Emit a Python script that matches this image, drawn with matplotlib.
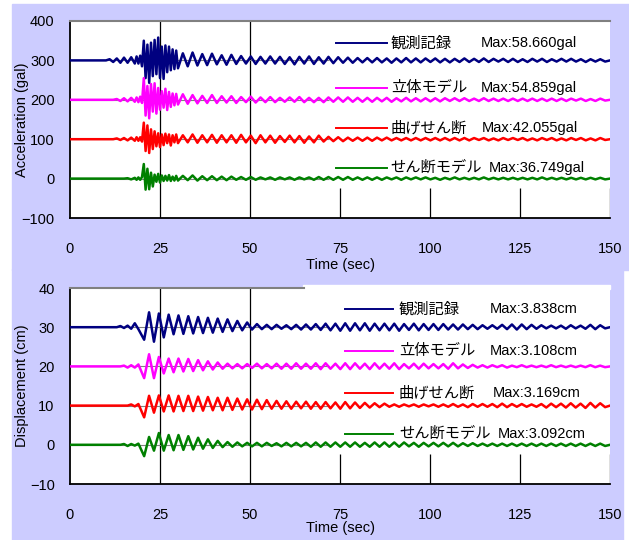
import numpy as np
import matplotlib
matplotlib.use("Agg")
import matplotlib.pyplot as plt
from matplotlib.patches import Rectangle

plt.rcParams['font.family'] = ['Liberation Sans', 'Noto Sans CJK JP']
plt.rcParams['axes.unicode_minus'] = True

# --- data ---
names = ["観測記録", "立体モデル", "曲げせん断", "せん断モデル"]
colors = ["#000080", "#FF00FF", "#FF0000", "#008000"]
acc_max = ["Max:58.660gal", "Max:54.859gal", "Max:42.055gal", "Max:36.749gal"]
dis_max = ["Max:3.838cm", "Max:3.108cm", "Max:3.169cm", "Max:3.092cm"]
acc_offsets = [300, 200, 100, 0]
dis_offsets = [30, 20, 10, 0]

# sample times (sec): start, pre-event 1 s, burst 0.5 s, coda ~1.35 s
t_acc = np.concatenate([[0], np.arange(10, 18), np.arange(18, 30, 0.5),
                        np.linspace(30, 150, 90)])
t_dis = np.concatenate([[0], np.arange(10, 20), np.linspace(20.6, 150, 96)])

# acceleration (gal), relative to each trace's offset
acc_obs = [0,
    0, 3, -4, 5, -6, 7, -6, 8,
    -8, 10, -8, 12, -15, 50, -45, 40, -57, 45, -40, 52,
    -35, 58, -45, 35, -47, 38, -30, 35, -25, 28, -22, 25,
    -20, 18, -15, 20, -13, 16, -12, 17, -10, 13,
    -11, 14, -9, 11, -8, 10, -9, 9, -8, 10,
    -8, 9, -9, 8, -10, 9, -8, 10, -9, 8,
    -8, 9, -7, 8, -6, 7, -6, 6, -5, 6,
    -5, 6, -5, 5, -6, 5, -5, 6, -5, 5,
    -5, 5, -4, 5, -5, 4, -5, 4, -4, 5,
    -4, 4, -4, 5, -4, 4, -3, 4, -4, 4,
    -4, 3, -4, 4, -3, 4, -4, 3, -3, 4,
    -3, 4, -3, 3, -4, 3, -3, 3, -3, 0]
acc_3d = [0,
    0, 0, 0, 2, -3, 4, -4, 5,
    -5, 6, -6, 8, -8, 55, -40, 35, -47, 40, -30, 42,
    -35, 30, -25, 22, -20, 28, -26, 20, -18, 16, -14, 15,
    -12, 14, -10, 12, -9, 10, -8, 12, -8, 9,
    -7, 9, -8, 7, -6, 8, -7, 6, -6, 7,
    -6, 5, -5, 6, -5, 7, -6, 5, -6, 5,
    -6, 6, -5, 6, -5, 6, -5, 5, -5, 5,
    -5, 5, -4, 5, -5, 4, -4, 5, -4, 4,
    -4, 4, -4, 4, -4, 4, -3, 4, -3, 4,
    -3, 3, -3, 4, -3, 3, -3, 3, -3, 3,
    -3, 3, -3, 3, -3, 3, -3, 3, -3, 3,
    -3, 3, -2, 3, -3, 2, -3, 3, -2, 0]
acc_bend = [0,
    0, 0, 0, 2, -2, 3, -3, 4,
    -4, 5, -4, 5, -6, 42, -30, 35, -35, 25, -25, 20,
    -18, 15, -20, 12, -15, 14, -10, 12, -16, 10, -8, 12,
    -10, 10, -8, 12, -9, 10, -8, 11, -9, 10,
    -8, 10, -9, 11, -8, 9, -10, 10, -8, 9,
    -9, 8, -7, 9, -8, 8, -9, 7, -8, 9,
    -6, 6, -5, 5, -5, 4, -4, 4, -4, 4,
    -4, 4, -3, 4, -3, 3, -3, 3, -3, 3,
    -3, 3, -3, 3, -3, 3, -3, 3, -3, 3,
    -3, 3, -2, 3, -3, 2, -3, 3, -2, 3,
    -2, 3, -3, 2, -3, 3, -2, 3, -3, 2,
    -3, 3, -2, 3, -3, 2, -3, 3, -2, 0]
acc_shear = [0,
    0, 0, 0, 0, 0, 0, 1, -2,
    2, -3, 3, -3, 4, 37, -28, 25, -27, 15, -20, 10,
    -8, 12, -10, 8, -6, 7, -5, 9, -6, 5, -5, 7,
    -5, 7, -4, 8, -5, 6, -4, 6, -4, 5,
    -4, 5, -3, 4, -3, 4, -3, 3, -2, 3,
    -3, 3, -2, 3, -3, 3, -2, 3, -3, 4,
    -3, 4, -3, 4, -3, 4, -3, 3, -3, 3,
    -3, 3, -3, 3, -2, 3, -3, 3, -2, 3,
    -2, 3, -2, 2, -3, 2, -2, 3, -2, 2,
    -2, 2, -2, 3, -2, 2, -2, 2, -2, 2,
    -2, 2, -2, 2, -2, 3, -2, 2, -2, 2,
    -2, 2, -2, 2, -2, 2, -2, 2, -2, 0]

# displacement (cm), relative to each trace's offset
dis_obs = [0,
    0, 0, 0, 0, 0.3, -0.2, 0.4, -0.4, 1.0, -0.5,
    -3.2, 3.8, -3.7, 3.5, -2.6, 3.2, -1.8, 3.0, -1.7, 2.8,
    -1.6, 2.6, -1.5, 2.4, -1.4, 2.2, -1.2, 2.0, -1.0, 1.6,
    -0.8, 1.2, -0.6, 0.8, -0.5, 0.6, -0.5, 0.6, -0.4, 0.5,
    -0.5, 0.6, -0.6, 0.7, -0.6, 0.8, -0.7, 0.9, -0.8, 0.9,
    -0.9, 1.0, -0.9, 1.0, -0.8, 1.0, -0.9, 0.9, -0.8, 0.9,
    -0.8, 0.9, -0.9, 0.8, -0.7, 0.9, -0.8, 0.8, -0.7, 0.8,
    -0.7, 0.8, -0.6, 0.7, -0.6, 0.7, -0.5, 0.6, -0.5, 0.5,
    -0.4, 0.5, -0.4, 0.6, -0.5, 0.7, -0.6, 0.7, -0.5, 0.6,
    -0.4, 0.5, -0.3, 0.4, -0.3, 0.4, -0.4, 0.5, -0.3, 0.4,
    -0.4, 0.6, -0.5, 0.5, -0.3, 0.0]
dis_3d = [0,
    0, 0, 0, 0, 0, 0.2, -0.3, 0.3, -0.3, 0.5,
    -3.0, 3.1, -3.0, 2.4, -1.8, 2.0, -1.5, 2.0, -1.3, 1.9,
    -1.2, 1.6, -1.0, 1.3, -0.8, 1.0, -0.6, 0.7, -0.5, 0.6,
    -0.5, 0.6, -0.4, 0.7, -0.5, 0.6, -0.5, 0.7, -0.6, 0.7,
    -0.6, 0.8, -0.6, 0.7, -0.6, 0.8, -0.7, 0.8, -0.6, 0.7,
    -0.7, 0.8, -0.7, 0.8, -0.6, 0.7, -0.7, 0.8, -0.6, 0.7,
    -0.6, 0.8, -0.7, 0.6, -0.5, 0.7, -0.6, 0.7, -0.5, 0.6,
    -0.5, 0.6, -0.6, 0.8, -0.5, 0.5, -0.4, 0.4, -0.3, 0.3,
    -0.3, 0.3, -0.2, 0.3, -0.3, 0.2, -0.2, 0.3, -0.2, 0.2,
    -0.2, 0.2, -0.2, 0.3, -0.2, 0.2, -0.2, 0.2, -0.2, 0.2,
    -0.2, 0.3, -0.2, 0.2, -0.2, 0.0]
dis_bend = [0,
    0, 0, 0, 0, 0, 0, 0, 0.3, -0.2, 0.4,
    -3.0, 2.5, -1.8, 2.6, -1.5, 2.6, -1.5, 2.5, -1.4, 2.5,
    -1.4, 2.3, -1.3, 2.2, -1.2, 2.0, -1.2, 2.0, -1.1, 1.8,
    -1.0, 1.6, -1.0, 1.5, -0.9, 1.4, -0.8, 1.2, -0.8, 1.1,
    -0.8, 1.0, -0.7, 1.0, -0.8, 0.9, -0.8, 0.9, -0.7, 0.8,
    -0.8, 0.9, -0.7, 0.8, -0.6, 0.7, -0.5, 0.6, -0.4, 0.5,
    -0.3, 0.3, -0.3, 0.3, -0.2, 0.3, -0.3, 0.3, -0.2, 0.3,
    -0.3, 0.3, -0.3, 0.4, -0.3, 0.3, -0.4, 0.4, -0.3, 0.4,
    -0.3, 0.4, -0.4, 0.5, -0.4, 0.4, -0.3, 0.4, -0.3, 0.3,
    -0.3, 0.4, -0.5, 0.5, -0.4, 0.5, -0.5, 0.6, -0.5, 0.5,
    -0.6, 0.7, -0.5, 0.6, -0.4, 0.0]
dis_shear = [0,
    0, 0, 0, 0, 0, 0.2, -0.3, 0.2, -0.2, 0.3,
    -2.9, 2.0, -1.5, 3.0, -1.5, 2.5, -1.4, 2.5, -1.3, 2.2,
    -1.2, 1.8, -1.0, 1.4, -0.8, 1.0, -0.6, 0.7, -0.5, 0.6,
    -0.4, 0.5, -0.4, 0.5, -0.4, 0.5, -0.3, 0.4, -0.4, 0.5,
    -0.4, 0.5, -0.4, 0.5, -0.5, 0.6, -0.5, 0.6, -0.5, 0.6,
    -0.5, 0.6, -0.5, 0.6, -0.5, 0.5, -0.5, 0.6, -0.5, 0.6,
    -0.5, 0.6, -0.5, 0.6, -0.4, 0.5, -0.5, 0.5, -0.4, 0.5,
    -0.4, 0.5, -0.4, 0.5, -0.4, 0.4, -0.3, 0.4, -0.3, 0.3,
    -0.3, 0.3, -0.3, 0.3, -0.3, 0.3, -0.3, 0.3, -0.3, 0.3,
    -0.3, 0.3, -0.3, 0.3, -0.3, 0.3, -0.3, 0.3, -0.3, 0.3,
    -0.3, 0.3, -0.3, 0.3, -0.3, 0.0]

acc_traces = [acc_obs, acc_3d, acc_bend, acc_shear]
dis_traces = [dis_obs, dis_3d, dis_bend, dis_shear]

W, H = 629, 540
fig = plt.figure(figsize=(W / 100, H / 100), dpi=100, facecolor="white")
lav = "#CCCCFF"
fig.patches.append(Rectangle((12 / W, 1 - 270 / H), (W - 12) / W, 266 / H,
                             transform=fig.transFigure, color=lav, zorder=-10))
fig.patches.append(Rectangle((12 / W, 0), 611 / W, 1 - 270 / H + 0.001,
                             transform=fig.transFigure, color=lav, zorder=-10))
# white strip above the lower plot area on the right
fig.patches.append(Rectangle((303 / W, 1 - 289 / H), 307 / W, 4 / H,
                             transform=fig.transFigure, color="white", zorder=-9))


def panel(rect, t, traces, offsets, maxes, yticks, ylabel, gap_top,
          leg_x, leg_y, max_x, top_end, xlab_y):
    ax = fig.add_axes(rect)
    ax.set_facecolor("white")
    ylo, yhi = yticks[0], yticks[-1]
    ax.set_xlim(0, 150)
    ax.set_ylim(ylo, yhi)
    ax.set_xticks([0, 25, 50, 75, 100, 125, 150])
    ax.set_yticks(yticks)
    ax.tick_params(length=0, labelsize=10.5)
    ax.tick_params(axis="x", pad=17)
    ax.tick_params(axis="y", pad=11)
    for s in ("left", "bottom"):
        ax.spines[s].set_linewidth(1.3)
    ax.spines["right"].set_visible(False)
    ax.spines["top"].set_color("#808080")
    ax.spines["top"].set_linewidth(1.5)
    ax.spines["top"].set_bounds(0, top_end)
    ax.set_xlabel("Time (sec)", fontsize=10.5)
    ax.set_ylabel(ylabel, fontsize=10.5)
    ax.xaxis.set_label_coords(0.5, xlab_y)
    ax.yaxis.set_label_coords(-0.075, 0.5)

    for x in (25, 50):
        ax.axvline(x, color="black", lw=0.9, zorder=1)
    ax.vlines([75, 100, 125, 150], ylo, gap_top, color="black", lw=0.9, zorder=1)
    ax.hlines(offsets, 0, 72, color="#808080", lw=0.8, zorder=1)

    for vals, off, c in zip(traces, offsets, colors):
        ax.plot(t, np.array(vals) + off, color=c, lw=1.8, zorder=3)

    for i, (name, m, c) in enumerate(zip(names, maxes, colors)):
        y = leg_y[i]
        ax.plot([leg_x[0], leg_x[1]], [y, y], color=c, lw=1.4,
                transform=ax.transAxes, zorder=4)
        ax.text(leg_x[2], y, name, transform=ax.transAxes, fontsize=11,
                va="center", ha="left", zorder=5)
        ax.text(max_x[i], y, m, transform=ax.transAxes, fontsize=10.5,
                va="center", ha="left", zorder=5)
    return ax


panel([70 / W, 1 - 218 / H, 540 / W, 197 / H], t_acc, acc_traces, acc_offsets,
      acc_max, [-100, 0, 100, 200, 300, 400], "Acceleration (gal)", -24,
      (0.4926, 0.587, 0.594), [0.886, 0.66, 0.457, 0.254],
      [0.761, 0.761, 0.763, 0.776], 150, -0.205)

panel([70 / W, 1 - 484 / H, 540 / W, 196 / H], t_dis, dis_traces, dis_offsets,
      dis_max, [-10, 0, 10, 20, 30, 40], "Displacement (cm)", -2.3,
      (0.509, 0.598, 0.609), [0.893, 0.679, 0.464, 0.255],
      [0.778, 0.778, 0.783, 0.792], 65, -0.19)

fig.savefig("out.png", dpi=100, facecolor=fig.get_facecolor())
